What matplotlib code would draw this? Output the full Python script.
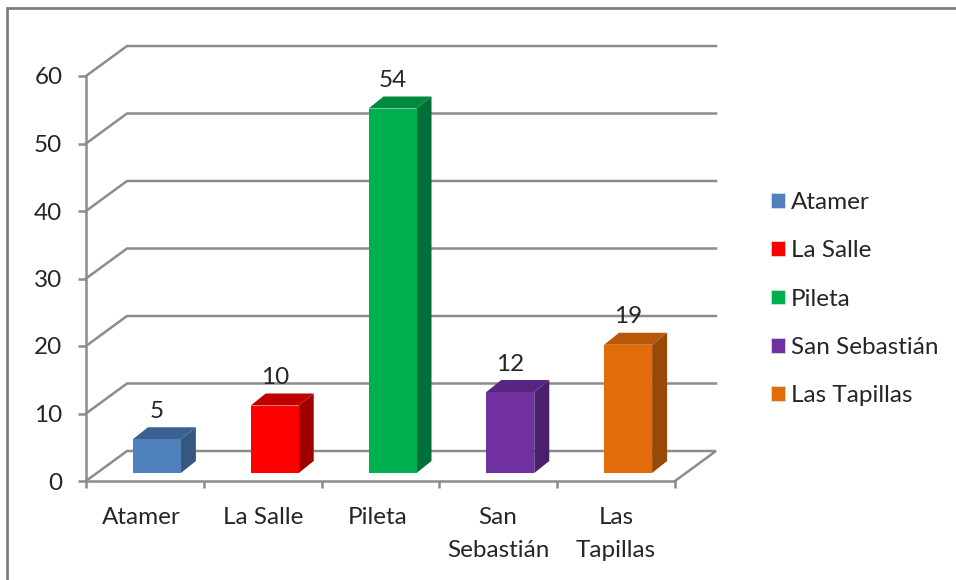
import matplotlib
matplotlib.use("Agg")
import matplotlib.pyplot as plt
from matplotlib.patches import Patch, Polygon, Rectangle

categories = ["Atamer", "La Salle", "Pileta", "San Sebastián", "Las Tapillas"]
tick_labels = ["Atamer", "La Salle", "Pileta", "San\nSebastián", "Las\nTapillas"]
values = [5, 10, 54, 12, 19]
y_ticks = [0, 10, 20, 30, 40, 50, 60]
front_colors = ["#4F81BD", "#FF0000", "#00B050", "#7030A0", "#E36C0A"]
top_colors = ["#3A6190", "#C00000", "#008A3E", "#582580", "#B85808"]
side_colors = ["#355880", "#A00000", "#00703A", "#4A1F6C", "#984807"]

GRAY = "#8C8C8C"
TEXT = "#262626"
plt.rcParams["font.family"] = ["Lato", "DejaVu Sans"]
plt.rcParams["font.size"] = 17.5

W, H = 956, 580
fig = plt.figure(figsize=(W / 100, H / 100), dpi=100)

# axes box in pixels, the 3d look is drawn by hand on top of it
left, right, top, bottom = 86, 675, 76, 481
ax = fig.add_axes([left / W, 1 - bottom / H, (right - left) / W, (bottom - top) / H])
ax.set_xlim(0, 5)
ax.set_ylim(0, 60)
ax.patch.set_visible(False)

px_x = 5 / (right - left)
px_y = 60 / (bottom - top)

# wall depth
dx = 41 * px_x
dy = 30 * px_y

# --- Grid on the floor and back wall ---
for v in y_ticks:
    xs = [0, dx, 5 + dx]
    ys = [v, v + dy, v + dy]
    if v == 0:
        xs.append(5)
        ys.append(0)
    ax.plot(xs, ys, color=GRAY, lw=1.8, clip_on=False, zorder=1, solid_joinstyle="miter")

# --- Bars ---
bar_w = 48 * px_x
off_x = 12 * px_x
off_y = 8 * px_y
dep_x = 15 * px_x
dep_y = 12 * px_y

for i, v in enumerate(values):
    x0 = i + 0.5 + off_x - bar_w / 2
    x1 = x0 + bar_w
    y0 = off_y
    y1 = off_y + v
    ax.add_patch(Polygon([(x1, y0), (x1 + dep_x, y0 + dep_y), (x1 + dep_x, y1 + dep_y), (x1, y1)],
                         fc=side_colors[i], ec="none", clip_on=False, zorder=3))
    ax.add_patch(Polygon([(x0, y1), (x1, y1), (x1 + dep_x, y1 + dep_y), (x0 + dep_x, y1 + dep_y)],
                         fc=top_colors[i], ec="none", clip_on=False, zorder=3))
    ax.add_patch(Rectangle((x0, y0), bar_w, v, fc=front_colors[i], ec="none", clip_on=False, zorder=4))
    ax.annotate(str(v), (i + 0.5 + off_x, y1), xytext=(0, 20), textcoords="offset points",
                ha="center", va="center", color=TEXT, zorder=5, annotation_clip=False)

# --- Axes ---
for s in ["top", "right"]:
    ax.spines[s].set_visible(False)
for s in ["left", "bottom"]:
    ax.spines[s].set_color(GRAY)
    ax.spines[s].set_linewidth(1.8)
    ax.spines[s].set_zorder(2)

ax.set_yticks(y_ticks)
ax.set_xticks(range(6))
ax.set_xticklabels([])
# labels sit slightly off the category centres in the original
label_px = [141, 263, 378, 498, 616]
ax.set_xticks([(p - left) * px_x for p in label_px], minor=True)
ax.set_xticklabels(tick_labels, minor=True, linespacing=1.68)
ax.tick_params(axis="y", length=6, width=1.8, color=GRAY, labelcolor=TEXT, pad=11)
ax.tick_params(axis="x", which="major", length=5, width=1.8, color=GRAY)
ax.tick_params(axis="x", which="minor", length=0, labelcolor=TEXT, pad=19)

# --- Legend ---
handles = [Patch(fc=c, ec="#DDE6F0", lw=0.5) for c in front_colors]
fig.legend(handles, categories, loc="center left", bbox_to_anchor=(771 / W, 1 - 299 / H),
           frameon=False, borderpad=0, borderaxespad=0, handlelength=0.56, handleheight=0.56,
           handletextpad=0.27, labelspacing=1.125, labelcolor=TEXT)

# --- Outer frame ---
fig.add_artist(plt.Line2D([7 / W, 7 / W, 1], [0, 1 - 8 / H, 1 - 8 / H], color="#7F7F7F", lw=2,
                          transform=fig.transFigure, solid_joinstyle="miter"))

fig.savefig("out.png", dpi=100, facecolor="white")
